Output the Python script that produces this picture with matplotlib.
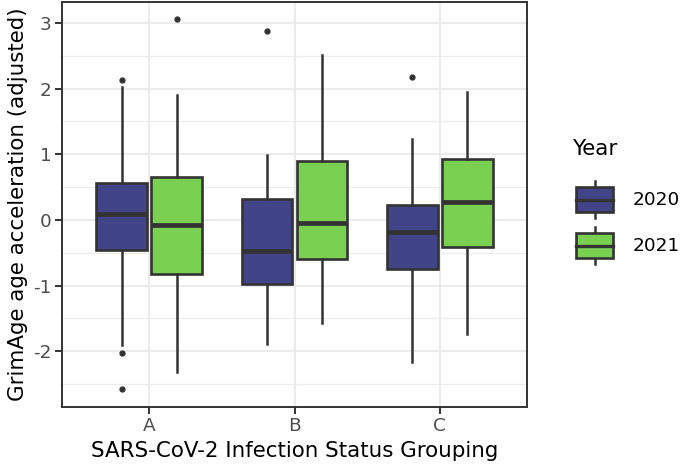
import matplotlib
matplotlib.use("Agg")
import matplotlib.pyplot as plt
from matplotlib.patches import Rectangle
from matplotlib.lines import Line2D
from matplotlib.legend_handler import HandlerBase
from matplotlib.ticker import MultipleLocator

# Box summaries (one value per group A, B, C)
groups = ["A", "B", "C"]
years = ["2020", "2021"]
fill_colors = ["#414487", "#7AD151"]

q1 = {"2020": [-0.46, -0.98, -0.75], "2021": [-0.82, -0.60, -0.41]}
median = {"2020": [0.09, -0.48, -0.19], "2021": [-0.08, -0.04, 0.28]}
q3 = {"2020": [0.56, 0.32, 0.22], "2021": [0.66, 0.90, 0.93]}
whisker_low = {"2020": [-1.91, -1.89, -2.16], "2021": [-2.31, -1.57, -1.74]}
whisker_high = {"2020": [2.02, 0.99, 1.23], "2021": [1.91, 2.52, 1.95]}
outliers = {
    "2020": [[2.13, -2.02, -2.58], [2.88], [2.18]],
    "2021": [[3.06], [], []],
}

line_col = "#333333"


class BoxKeyHandler(HandlerBase):
    """Draw a little boxplot glyph as the legend key, like ggplot does."""

    def create_artists(self, legend, orig_handle, xdescent, ydescent,
                       width, height, fontsize, trans):
        x0, y0 = -xdescent, -ydescent
        # the key itself is narrower than the slot, inset a bit from the left
        bx = x0 + width * 0.09
        bw = width * 0.82
        cx = bx + bw / 2
        box_h = height * 0.68
        by = y0 + (height - box_h) / 2
        whisk_lo = Line2D([cx, cx], [y0, by], color=line_col, lw=1.8, transform=trans)
        whisk_hi = Line2D([cx, cx], [by + box_h, y0 + height], color=line_col, lw=1.8, transform=trans)
        rect = Rectangle((bx, by), bw, box_h, facecolor=orig_handle.get_facecolor(),
                         edgecolor=line_col, lw=1.9, transform=trans)
        med = Line2D([bx, bx + bw], [y0 + height / 2] * 2, color=line_col, lw=2.4, transform=trans)
        return [whisk_lo, whisk_hi, rect, med]


fig = plt.figure(figsize=(6.8, 4.67), dpi=100)
ax = fig.add_axes([62 / 680, 1 - 407 / 467, (527 - 62) / 680, (407 - 2) / 467])

offsets = [-0.189, 0.189]
for yr, off, col in zip(years, offsets, fill_colors):
    stats = []
    for i in range(len(groups)):
        stats.append({
            "med": median[yr][i], "q1": q1[yr][i], "q3": q3[yr][i],
            "whislo": whisker_low[yr][i], "whishi": whisker_high[yr][i],
            "fliers": outliers[yr][i],
        })
    ax.bxp(stats, positions=[i + 1 + off for i in range(len(groups))], widths=0.35,
           patch_artist=True, showcaps=False,
           boxprops=dict(facecolor=col, edgecolor=line_col, linewidth=1.9),
           medianprops=dict(color=line_col, linewidth=3.4),
           whiskerprops=dict(color=line_col, linewidth=1.8),
           flierprops=dict(marker="o", markersize=3.5, markerfacecolor=line_col,
                           markeredgecolor=line_col),
           zorder=3)

ax.set_xlim(0.4, 3.6)
ax.set_ylim(-2.85, 3.32)
ax.set_xticks([1, 2, 3])
ax.set_xticklabels(groups)
ax.yaxis.set_minor_locator(MultipleLocator(0.5))
ax.set_yticks([-2, -1, 0, 1, 2, 3])
ax.set_yticklabels(["-2", "-1", "0", "1", "2", "3"])

ax.grid(which="major", color="#EBEBEB", linewidth=1.5, zorder=0)
ax.grid(which="minor", axis="y", color="#EBEBEB", linewidth=0.8, zorder=0)
ax.set_axisbelow(True)
ax.tick_params(which="minor", length=0)
ax.tick_params(which="major", length=5, width=1.4, color=line_col,
               labelsize=13.3, labelcolor="#4D4D4D", pad=2.5)
for sp in ax.spines.values():
    sp.set_color(line_col)
    sp.set_linewidth(1.4)

ax.set_xlabel("SARS-CoV-2 Infection Status Grouping", fontsize=15.4, labelpad=4)
ax.set_ylabel("GrimAge age acceleration (adjusted)", fontsize=15.4, labelpad=4)

handles = [Rectangle((0, 0), 1, 1, facecolor=c) for c in fill_colors]
leg = fig.legend(handles, years, title="Year", loc="upper left",
                 bbox_to_anchor=(572 / 680, 1 - 139 / 467), frameon=False, borderpad=0,
                 borderaxespad=0,
                 fontsize=13.3, title_fontsize=15.4, handler_map={Rectangle: BoxKeyHandler()},
                 handlelength=2.44, handleheight=2.7, labelspacing=0.49, handletextpad=0.85,
                 alignment="left")
# more room between the title and the keys, as in ggplot
leg._legend_box.sep = 15.9

fig.savefig("out.png", dpi=100)
